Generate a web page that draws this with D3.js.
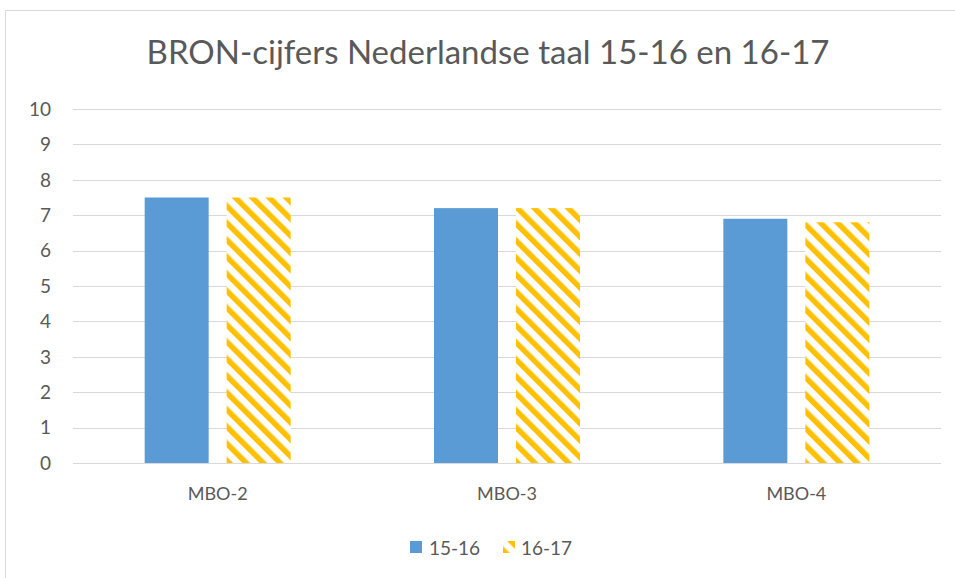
<!DOCTYPE html>
<html>
<head>
<meta charset="utf-8">
<script src="https://cdn.jsdelivr.net/npm/d3@7"></script>
<style>
  body { margin: 0; background: #fff; }
  text { font-family: Lato, "Open Sans", sans-serif; fill: #595959; }
</style>
</head>
<body>
<svg id="chart" width="955" height="578"></svg>
<script>
var categories = ["MBO-2", "MBO-3", "MBO-4"];
var seriesNames = ["15-16", "16-17"];
var values1516 = [7.5, 7.2, 6.9];
var values1617 = [7.5, 7.2, 6.8];
var yTicks = [0, 1, 2, 3, 4, 5, 6, 7, 8, 9, 10];

var svg = d3.select("#chart");
var plotLeft = 73, plotRight = 941, plotTop = 109, plotBottom = 463;

// hatch pattern for 16-17
var defs = svg.append("defs");
var pat = defs.append("pattern")
    .attr("id", "hatch")
    .attr("patternUnits", "userSpaceOnUse")
    .attr("width", 12)
    .attr("height", 12)
    .attr("patternTransform", "rotate(-45)");
pat.append("rect").attr("width", 12).attr("height", 12).attr("fill", "#fff");
pat.append("rect").attr("width", 5.5).attr("height", 12).attr("fill", "#FFC000");

// chart border
svg.append("path")
    .attr("d", "M5.5,578 L5.5,10.5 L955,10.5")
    .attr("fill", "none")
    .attr("stroke", "#D9D9D9")
    .attr("stroke-width", 1);

var x = d3.scaleBand().domain(categories).range([plotLeft, plotRight]);
var y = d3.scaleLinear().domain([0, 10]).range([plotBottom, plotTop]);

// gridlines
svg.append("g")
    .selectAll("line")
    .data(yTicks)
  .enter().append("line")
    .attr("x1", plotLeft).attr("x2", plotRight)
    .attr("y1", function(d) { return Math.round(y(d)) + 0.5; })
    .attr("y2", function(d) { return Math.round(y(d)) + 0.5; })
    .attr("stroke", "#D9D9D9")
    .attr("stroke-width", 1);

// y labels
svg.append("g")
    .selectAll("text")
    .data(yTicks)
  .enter().append("text")
    .attr("x", 51)
    .attr("y", function(d) { return y(d); })
    .attr("dy", "0.36em")
    .style("text-anchor", "end")
    .style("font-size", "19px")
    .text(function(d) { return d; });

var barW = 64, gap = 18;

svg.append("g")
    .selectAll("rect")
    .data(values1516)
  .enter().append("rect")
    .attr("x", function(d, i) { return x(categories[i]) + x.bandwidth() / 2 - gap / 2 - barW; })
    .attr("y", function(d) { return y(d); })
    .attr("width", barW)
    .attr("height", function(d) { return y(0) - y(d); })
    .attr("fill", "#5B9BD5");

svg.append("g")
    .selectAll("rect")
    .data(values1617)
  .enter().append("rect")
    .attr("x", function(d, i) { return x(categories[i]) + x.bandwidth() / 2 + gap / 2; })
    .attr("y", function(d) { return y(d); })
    .attr("width", barW)
    .attr("height", function(d) { return y(0) - y(d); })
    .attr("fill", "url(#hatch)");

// category labels
svg.append("g")
    .selectAll("text")
    .data(categories)
  .enter().append("text")
    .attr("x", function(d) { return x(d) + x.bandwidth() / 2; })
    .attr("y", 500)
    .style("text-anchor", "middle")
    .style("font-size", "18px")
    .text(function(d) { return d; });

// title
svg.append("text")
    .attr("x", 488)
    .attr("y", 64)
    .style("text-anchor", "middle")
    .style("font-size", "33px")
    .text("BRON-cijfers Nederlandse taal 15-16 en 16-17");

// legend
var legend = svg.append("g");
legend.append("rect").attr("x", 410).attr("y", 541).attr("width", 12).attr("height", 12).attr("fill", "#5B9BD5");
legend.append("text").attr("x", 429).attr("y", 555).style("font-size", "19px").text(seriesNames[0]);
legend.append("rect").attr("x", 503).attr("y", 541).attr("width", 12).attr("height", 12).attr("fill", "url(#hatch)");
legend.append("text").attr("x", 521).attr("y", 555).style("font-size", "19px").text(seriesNames[1]);
</script>
</body>
</html>
